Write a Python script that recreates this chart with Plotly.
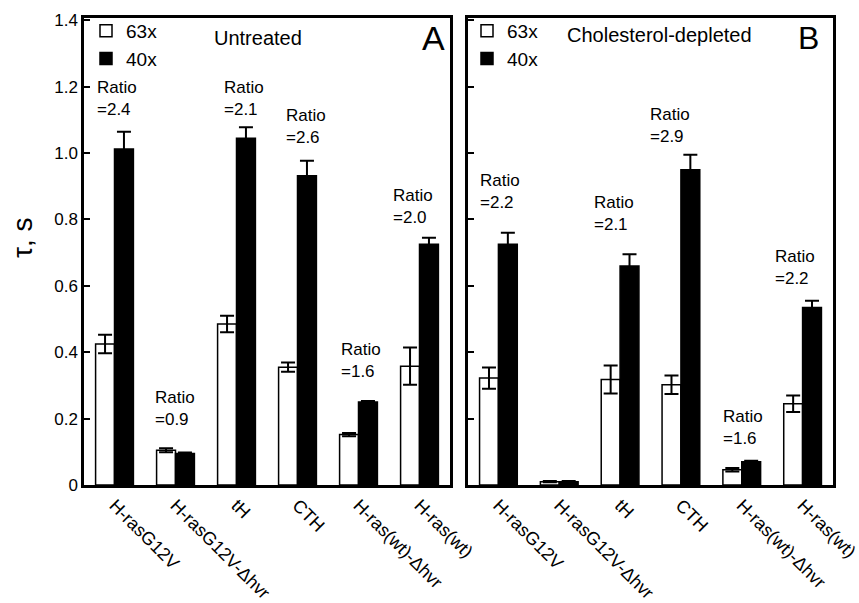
import plotly.graph_objects as go

categories = ["H-rasG12V", "H-rasG12V-Δhvr", "tH", "CTH", "H-ras(wt)-Δhvr", "H-ras(wt)"]

# Panel A: untreated
a_63 = [0.425, 0.105, 0.485, 0.355, 0.152, 0.358]
a_63_err = [0.028, 0.006, 0.025, 0.014, 0.005, 0.056]
a_40 = [1.012, 0.095, 1.045, 0.932, 0.250, 0.725]
a_40_err = [0.052, 0.003, 0.033, 0.045, 0.003, 0.020]
a_ratio = ["2.4", "0.9", "2.1", "2.6", "1.6", "2.0"]

# Panel B: cholesterol-depleted
b_63 = [0.322, 0.010, 0.318, 0.302, 0.046, 0.245]
b_63_err = [0.032, 0.002, 0.042, 0.028, 0.005, 0.025]
b_40 = [0.725, 0.010, 0.660, 0.950, 0.070, 0.535]
b_40_err = [0.035, 0.002, 0.035, 0.045, 0.003, 0.020]
b_ratio = ["2.2", None, "2.1", "2.9", "1.6", "2.2"]

# label placement (layout only)
a_ratio_y = [1.163, 0.230, 1.163, 1.080, 0.376, 0.840]
a_ratio_dx = [-20, -23, -15, -14, -20, -29]
b_ratio_y = [0.883, None, 0.819, 1.084, 0.172, 0.654]
b_ratio_dx = [-20, 0, -28, -33, -21, -30]

FONT = "Liberation Sans, Arial, sans-serif"

fig = go.Figure()

def add_panel(v63, e63, v40, e40, xa, ya, legend):
    fig.add_trace(go.Bar(
        x=categories, y=v63, name="63x", xaxis=xa, yaxis=ya, legend=legend,
        marker=dict(color="white", line=dict(color="black", width=1.5)),
        error_y=dict(type="data", array=e63, visible=True, color="black", thickness=2, width=7),
    ))
    fig.add_trace(go.Bar(
        x=categories, y=v40, name="40x", xaxis=xa, yaxis=ya, legend=legend,
        marker=dict(color="black", line=dict(color="black", width=1.5)),
        error_y=dict(type="data", array=e40, visible=True, color="black", thickness=2, width=7),
    ))

add_panel(a_63, a_63_err, a_40, a_40_err, "x", "y", "legend")
add_panel(b_63, b_63_err, b_40, b_40_err, "x2", "y2", "legend2")

ydom = [118 / 603, 585 / 603]
common_x = dict(showline=True, linewidth=2.5, linecolor="black", mirror=True, ticks="",
                tickangle=45, tickfont=dict(size=18, family=FONT, color="black"),
                automargin=False, showgrid=False, zeroline=False)
common_y = dict(showline=True, linewidth=2.5, linecolor="black", mirror=True, ticks="inside",
                ticklen=6, tickwidth=1.5, tickcolor="black", range=[0, 1.407],
                tickvals=[0, 0.2, 0.4, 0.6, 0.8, 1.0, 1.2, 1.4],
                ticktext=["0", "0.2", "0.4", "0.6", "0.8", "1.0", "1.2", "1.4"],
                tickfont=dict(size=17, family=FONT, color="black"),
                automargin=False, showgrid=False, zeroline=False)

annotations = []
for i, r in enumerate(a_ratio):
    annotations.append(dict(x=categories[i], y=a_ratio_y[i], xref="x", yref="y",
                            text=f"Ratio<br>={r}", showarrow=False, xanchor="left",
                            yanchor="middle", align="left", xshift=a_ratio_dx[i],
                            font=dict(size=17, family=FONT, color="black")))
for i, r in enumerate(b_ratio):
    if r is None:
        continue
    annotations.append(dict(x=categories[i], y=b_ratio_y[i], xref="x2", yref="y2",
                            text=f"Ratio<br>={r}", showarrow=False, xanchor="left",
                            yanchor="middle", align="left", xshift=b_ratio_dx[i],
                            font=dict(size=17, family=FONT, color="black")))

annotations += [
    dict(x=0.475, y=0.957, xref="x domain", yref="y domain", text="Untreated", showarrow=False,
         xanchor="center", yanchor="middle", font=dict(size=20, family=FONT, color="black")),
    dict(x=0.954, y=0.957, xref="x domain", yref="y domain", text="A", showarrow=False,
         xanchor="center", yanchor="middle", font=dict(size=34, family=FONT, color="black")),
    dict(x=0.526, y=0.964, xref="x2 domain", yref="y2 domain", text="Cholesterol-depleted",
         showarrow=False, xanchor="center", yanchor="middle",
         font=dict(size=20, family=FONT, color="black")),
    dict(x=0.932, y=0.957, xref="x2 domain", yref="y2 domain", text="B", showarrow=False,
         xanchor="center", yanchor="middle", font=dict(size=32, family=FONT, color="black")),
    dict(x=22 / 859, y=1 - 238 / 603, xref="paper", yref="paper", text="τ, s", textangle=-90,
         showarrow=False, xanchor="center", yanchor="middle",
         font=dict(size=28, family=FONT, color="black")),
]

legend_style = dict(xref="paper", yref="paper", xanchor="left", yanchor="top",
                    bgcolor="rgba(0,0,0,0)", borderwidth=0, tracegroupgap=0,
                    font=dict(size=19, family=FONT, color="black"))

fig.update_layout(
    width=859, height=603,
    margin=dict(l=0, r=0, t=0, b=0),
    paper_bgcolor="white", plot_bgcolor="white",
    barmode="group", bargap=0.38, bargroupgap=0,
    xaxis=dict(domain=[84 / 859, 450 / 859], anchor="y", **common_x),
    xaxis2=dict(domain=[468 / 859, 833 / 859], anchor="y2", **common_x),
    yaxis=dict(domain=ydom, anchor="x", showticklabels=True, **common_y),
    yaxis2=dict(domain=ydom, anchor="x2", showticklabels=False, **common_y),
    legend=dict(x=86 / 859, y=1 - 12 / 603, **legend_style),
    legend2=dict(x=467 / 859, y=1 - 12 / 603, **legend_style),
    annotations=annotations,
    showlegend=True,
)

fig.write_html("out.html")
